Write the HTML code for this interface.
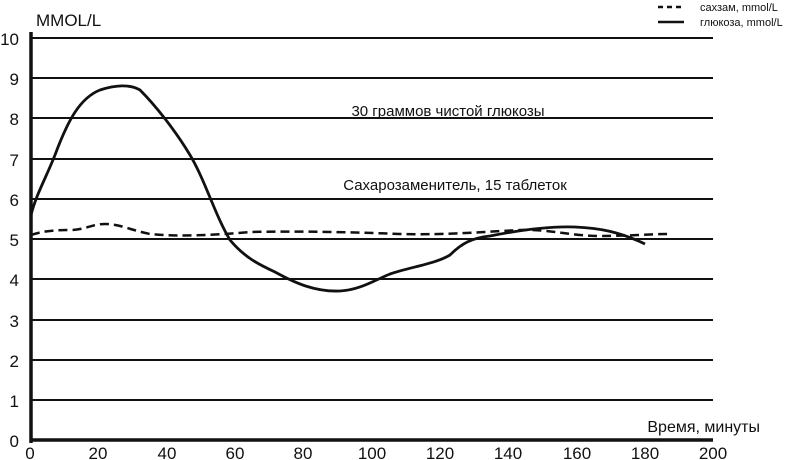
<!DOCTYPE html>
<html><head><meta charset="utf-8"><style>body{margin:0;background:#fff}svg{display:block}text{font-family:"Liberation Sans",Arial,sans-serif;fill:#111}</style></head>
<body>
<svg width="790" height="460" viewBox="0 0 790 460">
<g stroke="#111" stroke-width="2">
<line x1="31" y1="38" x2="713" y2="38"/><line x1="31" y1="78" x2="713" y2="78"/><line x1="31" y1="118" x2="713" y2="118"/><line x1="31" y1="159" x2="713" y2="159"/><line x1="31" y1="199" x2="713" y2="199"/><line x1="31" y1="239" x2="713" y2="239"/><line x1="31" y1="279" x2="713" y2="279"/><line x1="31" y1="320" x2="713" y2="320"/><line x1="31" y1="360" x2="713" y2="360"/><line x1="31" y1="400" x2="713" y2="400"/>
</g>
<line x1="31" y1="440" x2="713" y2="440" stroke="#111" stroke-width="3.5"/>
<line x1="31" y1="32" x2="31" y2="443" stroke="#111" stroke-width="3.5"/>
<g font-size="17" text-anchor="end">
<text x="19" y="45">10</text><text x="19" y="85">9</text><text x="19" y="125">8</text><text x="19" y="166">7</text><text x="19" y="206">6</text><text x="19" y="246">5</text><text x="19" y="286">4</text><text x="19" y="327">3</text><text x="19" y="367">2</text><text x="19" y="407">1</text><text x="19" y="447">0</text>
</g>
<g font-size="17" text-anchor="middle">
<text x="30" y="459">0</text><text x="98" y="459">20</text><text x="167" y="459">40</text><text x="235" y="459">60</text><text x="303" y="459">80</text><text x="372" y="459">100</text><text x="440" y="459">120</text><text x="508" y="459">140</text><text x="577" y="459">160</text><text x="645" y="459">180</text><text x="713" y="459">200</text>
</g>
<text x="36" y="26" font-size="17">MMOL/L</text>
<text x="760" y="432" font-size="16" text-anchor="end">Время, минуты</text>
<text x="448" y="116" font-size="15" text-anchor="middle">30 граммов чистой глюкозы</text>
<text x="455" y="190" font-size="15" text-anchor="middle">Сахарозаменитель, 15 таблеток</text>
<line x1="658" y1="7" x2="684" y2="7" stroke="#111" stroke-width="2.5" stroke-dasharray="5,4"/>
<line x1="658" y1="22" x2="684" y2="22" stroke="#111" stroke-width="2.5"/>
<text x="700" y="11" font-size="11">сахзам, mmol/L</text>
<text x="700" y="26" font-size="11">глюкоза, mmol/L</text>
<path d="M31,235 C40,232 50,230 70,230 C85,230 92,224 105,224 C120,224 130,230 150,234 C180,237 215,235 250,232 C300,231 350,232 400,234 C450,235 480,232 520,230 C550,229 570,236 600,236 C630,236 650,234 668,234" fill="none" stroke="#111" stroke-width="2.5" stroke-dasharray="9,5"/>
<path d="M31,215 C36,195 45,180 55,155 C68,120 80,98 100,90 C115,85 130,84 140,90 C155,105 175,130 190,155 C205,180 215,215 230,240 C245,258 260,265 275,272 C295,283 315,292 340,291 C360,290 375,280 390,274 C410,267 435,264 450,255 C462,243 472,238 490,236 C520,230 550,226 575,227 C600,228 620,232 645,244" fill="none" stroke="#111" stroke-width="2.8"/>
</svg>
</body></html>
